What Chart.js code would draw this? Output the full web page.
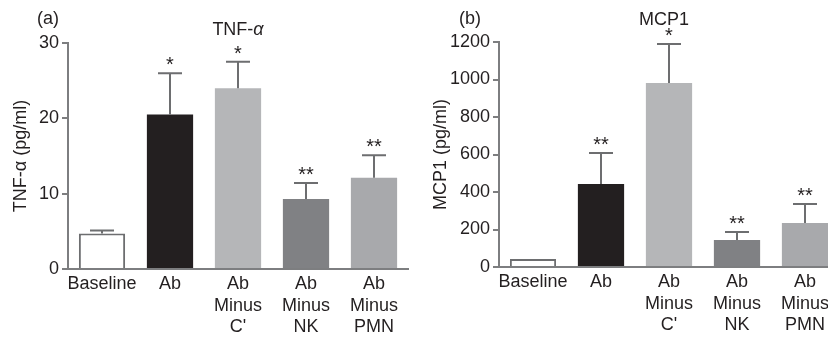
<!DOCTYPE html>
<html><head><meta charset="utf-8">
<script src="https://cdn.jsdelivr.net/npm/chart.js@4.4.1/dist/chart.umd.min.js"></script>
<style>
html,body{margin:0;padding:0;overflow:hidden;background:#fff;width:828px;height:340px;}
#a{position:absolute;left:0;top:0;width:414px;height:340px;overflow:hidden}
#b{position:absolute;left:414px;top:0;width:414px;height:340px;overflow:hidden}
canvas{display:block}
</style></head><body>
<div id="a"><canvas id="ca" width="414" height="340"></canvas></div>
<div id="b"><canvas id="cb" width="431" height="340"></canvas></div>
<script>
const categories = [['Baseline'], ['Ab'], ['Ab', 'Minus', "C'"], ['Ab', 'Minus', 'NK'], ['Ab', 'Minus', 'PMN']];
const tnfMean = [4.7, 20.5, 24.0, 9.3, 12.1];
const tnfErr = [0.4, 5.5, 3.5, 2.1, 3.0];
const tnfSig = ['', '*', '*', '**', '**'];
const mcpMean = [43, 443, 981, 144, 235];
const mcpErr = [0, 165, 208, 43, 101];
const mcpSig = ['', '**', '*', '**', '**'];
const barColors = ['#ffffff', '#231f20', '#b5b6b8', '#808184', '#a8a9ac'];
const tnfAxis = {min: 0, max: 30, step: 10};
const mcpAxis = {min: 0, max: 1200, step: 200};

const FONT = '"Liberation Sans", Arial, Helvetica, sans-serif';
const AXIS = '#7d7e80';
const INK = '#231f20';

const annot = {
  id: 'annot',
  afterDatasetsDraw(chart, args, o) {
    const ctx = chart.ctx, meta = chart.getDatasetMeta(0), y = chart.scales.y;
    ctx.save();
    ctx.strokeStyle = '#6d6e70'; ctx.lineWidth = 2;
    o.mean.forEach((m, i) => {
      const x = meta.data[i].x;
      const y1 = y.getPixelForValue(m + o.err[i]);
      if (o.err[i]) {
        const y0 = y.getPixelForValue(m);
        ctx.beginPath();
        ctx.moveTo(x, y0); ctx.lineTo(x, y1);
        ctx.moveTo(x - 12, y1); ctx.lineTo(x + 12, y1);
        ctx.stroke();
      }
      if (o.sig[i]) {
        ctx.fillStyle = INK; ctx.font = '20px ' + FONT;
        ctx.textAlign = 'center'; ctx.textBaseline = 'alphabetic';
        ctx.fillText(o.sig[i], x, y1 - 2);
      }
    });
    ctx.fillStyle = INK; ctx.textBaseline = 'middle';
    ctx.font = '18px ' + FONT; ctx.textAlign = 'left';
    ctx.fillText(o.panel, o.panelX, 19);
    const nW = ctx.measureText(o.title).width;
    ctx.font = 'italic 18px ' + FONT;
    const iW = o.italic ? ctx.measureText(o.italic).width : 0;
    let tx = o.titleX - (nW + iW) / 2;
    ctx.font = '18px ' + FONT;
    ctx.fillText(o.title, tx, o.titleY);
    if (o.italic) { ctx.font = 'italic 18px ' + FONT; ctx.fillText(o.italic, tx + nW, o.titleY); }
    ctx.restore();
  }
};

function make(id, mean, err, sig, ax, yTitle, yW, xH, top, titleOpts) {
  return new Chart(document.getElementById(id), {
    type: 'bar',
    data: {labels: categories, datasets: [{
      data: mean,
      backgroundColor: barColors,
      borderColor: barColors.map((c, i) => i === 0 ? '#6d6e70' : c),
      borderWidth: barColors.map((c, i) => i === 0 ? 2 : 0),
      barPercentage: 0.68, categoryPercentage: 1.0
    }]},
    options: {
      responsive: false, animation: false, devicePixelRatio: 1,
      layout: {padding: {top: top, right: 6, left: 0, bottom: 0}},
      plugins: {legend: {display: false}, tooltip: {enabled: false},
        annot: Object.assign({mean: mean, err: err, sig: sig}, titleOpts)},
      scales: {
        x: {
          grid: {display: false, drawTicks: false},
          border: {display: true, color: AXIS, width: 2},
          ticks: {color: INK, font: {family: FONT, size: 18, lineHeight: 1.17}, padding: 5, autoSkip: false, maxRotation: 0},
          afterFit(s) { s.height = xH; }
        },
        y: {
          min: ax.min, max: ax.max,
          grid: {drawOnChartArea: false, drawTicks: true, tickLength: 6, color: AXIS, lineWidth: 2},
          border: {display: true, color: AXIS, width: 2},
          ticks: {stepSize: ax.step, color: INK, font: {family: FONT, size: 18}, padding: 3,
            callback: v => String(v)},
          title: {display: true, text: yTitle, color: INK, font: {family: FONT, size: 18}, padding: {top: titleOpts.ytPad, bottom: 0}},
          afterFit(s) { s.width = yW; }
        }
      }
    },
    plugins: [annot]
  });
}

make('ca', tnfMean, tnfErr, tnfSig, tnfAxis, 'TNF-α (pg/ml)', 68, 71, 43,
  {panel: '(a)', panelX: 37, title: 'TNF-', italic: 'α', titleX: 238, titleY: 30, ytPad: 10});
make('cb', mcpMean, mcpErr, mcpSig, mcpAxis, 'MCP1 (pg/ml)', 85, 73, 42,
  {panel: '(b)', panelX: 45, title: 'MCP1', italic: '', titleX: 250, titleY: 20, ytPad: 16});
</script>
</body></html>
